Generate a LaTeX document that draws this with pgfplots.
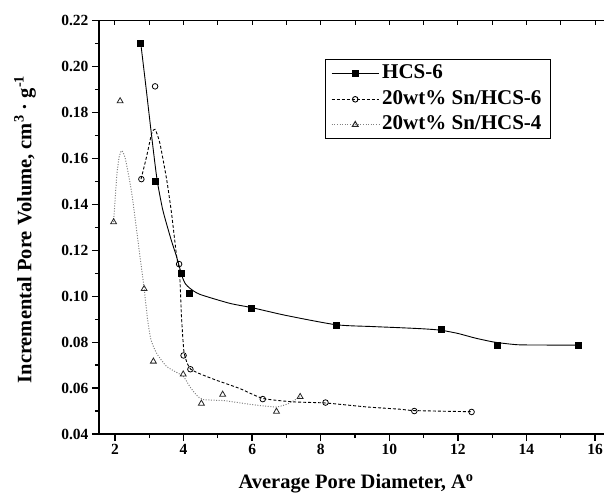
\documentclass[border=0pt]{standalone}
\usepackage{fontspec}
\setmainfont{Liberation Serif}
\usepackage{pgfplots}
\pgfplotsset{compat=1.18}
\begin{document}
\begin{tikzpicture}[x=1pt,y=1pt]
\useasboundingbox (-99,-63) rectangle (505,434);
% top axis line with small inward ticks
\begin{axis}[
  at={(0,0)}, anchor=south west,
  scale only axis, width=505pt, height=413.3pt,
  xmin=1.534, xmax=16.262, ymin=0.04, ymax=0.22,
  axis x line*=top, axis y line=none,
  xtick={2,3,...,16}, xticklabels={}, ytick=\empty,
  tick align=inside, major tick length=4pt,
  tick style={line width=1pt, black},
  axis line style={line width=1.3pt, -},
]
\end{axis}
\begin{axis}[
  at={(0,0)}, anchor=south west,
  scale only axis, width=505pt, height=413.3pt,
  xmin=1.534, xmax=16.262, ymin=0.04, ymax=0.22,
  axis x line*=bottom, axis y line*=left,
  axis line style={line width=1.6pt, -},
  xtick={2,4,6,8,10,12,14,16}, minor xtick={3,5,7,9,11,13,15},
  ytick={0.04,0.06,0.08,0.10,0.12,0.14,0.16,0.18,0.20,0.22},
  minor ytick={0.05,0.07,0.09,0.11,0.13,0.15,0.17,0.19,0.21},
  tick align=outside, major tick length=7pt, minor tick length=4pt,
  tick style={line width=1.3pt, black},
  /pgf/number format/assume math mode=true,
  tick label style={font=\fontsize{15.5}{18}\selectfont\bfseries},
  yticklabel style={/pgf/number format/fixed, /pgf/number format/fixed zerofill, /pgf/number format/precision=2},
  xlabel={Average Pore Diameter, A\textsuperscript{o}},
  ylabel={Incremental Pore Volume, cm\textsuperscript{3} · g\textsuperscript{-1}},
  label style={font=\fontsize{20.5}{24}\selectfont\bfseries},
  xlabel style={at={(axis description cs:0.509,-0.121)}, anchor=center},
  ylabel style={at={(axis description cs:-0.1465,0.495)}, anchor=center},
  legend image code/.code={\draw[mark repeat=2,mark phase=2,#1] plot coordinates {(0pt,0pt) (23.5pt,0pt) (47pt,0pt)};},
  legend style={at={(axis description cs:0.447,0.9066)}, anchor=north west,
    draw=black, line width=1pt, font=\fontsize{21}{22}\selectfont\bfseries,
    inner xsep=6pt, inner ysep=4pt, row sep=5.5pt,
    nodes={inner xsep=3pt, inner ysep=1pt, text height=14pt, text depth=4pt}, cells={anchor=west}},
]
% HCS-6 fitted curve
\addplot[forget plot, black, line width=0.9pt, smooth, tension=0.4] coordinates {
(2.75,0.2104)(2.9,0.1916)(3.05,0.1722)(3.22,0.1515)(3.38,0.1385)(3.51,0.1312)
(3.65,0.1240)(3.78,0.1180)(3.88,0.1128)(3.96,0.1085)(4.05,0.1055)(4.19,0.1034)
(4.48,0.1008)(5.35,0.0969)(6.0,0.0950)(7.0,0.0916)(8.44,0.0876)(9.5,0.0868)
(10.3,0.0863)(11.0,0.0858)(11.5,0.0852)(12.0,0.0838)(12.5,0.0818)(13.03,0.0801)
(13.5,0.0792)(13.9,0.0788)(15.5,0.0787)};
\addplot[forget plot, only marks, mark=square*, mark size=3pt, black] coordinates {
(2.75,0.2104)(3.18,0.1499)(3.94,0.1101)(4.16,0.1012)(5.98,0.0950)(8.44,0.0873)
(11.50,0.0858)(13.14,0.0787)(15.50,0.0787)};
% 20wt% Sn/HCS-6 fitted curve
\addplot[forget plot, black, line width=0.9pt, dash pattern=on 3pt off 2pt, smooth, tension=0.35] coordinates {
(2.76,0.151)(2.92,0.1607)(3.07,0.1709)(3.17,0.1727)(3.31,0.1666)(3.51,0.1506)
(3.65,0.1361)(3.80,0.1172)(3.87,0.1125)(3.90,0.1056)(3.94,0.0910)(4.01,0.0760)
(4.11,0.0707)(4.21,0.0682)(4.48,0.0662)(4.96,0.0634)(5.64,0.0598)(6.31,0.0555)
(7.2,0.0540)(8.14,0.0535)(9.33,0.0518)(10.31,0.0508)(10.73,0.0502)(12.4,0.0497)};
\addplot[forget plot, only marks, mark=o, mark size=2.8pt, black, fill=white, line width=0.8pt] coordinates {
(2.77,0.151)(3.17,0.1914)(3.87,0.114)(4.0,0.0742)(4.2,0.0682)(6.31,0.0552)
(8.14,0.0537)(10.73,0.050)(12.4,0.0496)};
% 20wt% Sn/HCS-4 fitted curve
\addplot[forget plot, gray, line width=1pt, dash pattern=on 1pt off 1.6pt, smooth, tension=0.35] coordinates {
(1.96,0.1323)(2.05,0.152)(2.12,0.1605)(2.195,0.1634)(2.3,0.160)(2.49,0.1448)
(2.73,0.1172)(2.85,0.1035)(2.95,0.0900)(3.05,0.0810)(3.22,0.0750)(3.5,0.0695)
(3.8,0.0668)(4.0,0.0650)(4.19,0.0605)(4.38,0.0569)(4.57,0.0550)(5.2,0.0545)
(6.0,0.0528)(6.7,0.0518)(7.05,0.0532)(7.4,0.0562)};
\addplot[forget plot, only marks, mark=triangle, mark size=3.4pt, black!85, fill=white, line width=0.8pt] coordinates {
(1.96,0.1323)(2.15,0.185)(2.85,0.1032)(3.12,0.0716)(3.99,0.066)(4.52,0.0533)
(5.14,0.0572)(6.71,0.0498)(7.40,0.0562)};
\addlegendimage{black, line width=0.9pt, mark=square*, mark size=3pt, mark options={solid}}
\addlegendentry{HCS-6}
\addlegendimage{black, line width=0.9pt, dash pattern=on 3pt off 2pt, mark=o, mark size=2.8pt, mark options={solid, fill=white}}
\addlegendentry{20wt\% Sn/HCS-6}
\addlegendimage{gray, line width=1pt, dash pattern=on 1pt off 1.6pt, mark=triangle, mark size=3.4pt, mark options={solid, black!85, fill=white}}
\addlegendentry{20wt\% Sn/HCS-4}
\end{axis}
\end{tikzpicture}
\end{document}
